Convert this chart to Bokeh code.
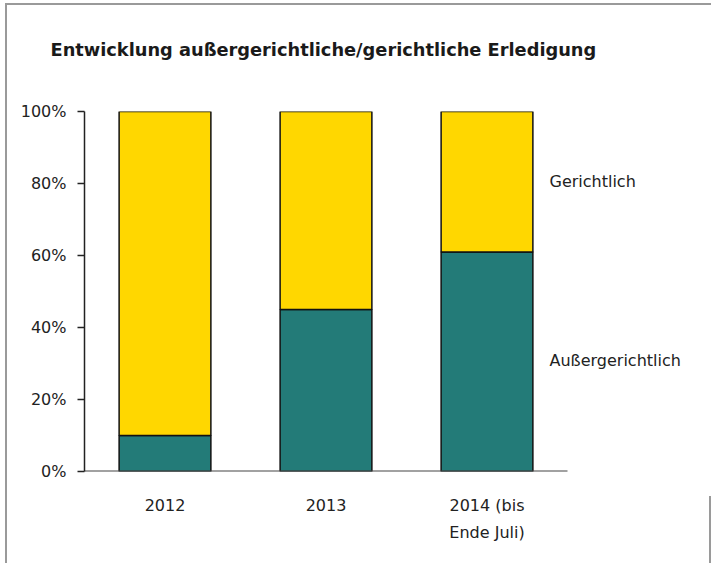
from bokeh.plotting import figure
from bokeh.models import ColumnDataSource, Label, NumeralTickFormatter, FixedTicker, Range1d, Title
from bokeh.embed import file_html
from bokeh.resources import INLINE

categories = ["2012", "2013", "2014 (bis\nEnde Juli)"]
aussergerichtlich = [0.10, 0.45, 0.61]
gerichtlich = [0.90, 0.55, 0.39]
series_names = ["Außergerichtlich", "Gerichtlich"]
y_ticks = [0, 0.2, 0.4, 0.6, 0.8, 1.0]
title_text = "Entwicklung außergerichtliche/gerichtliche Erledigung"

FONT = "DejaVu Sans"
TEAL = "#237B78"
YELLOW = "#FFD700"
W, H = 711, 563
LEFT, RIGHT_EDGE, TOP, BOTTOM = 84, 567, 111, 471
unit_px = (RIGHT_EDGE - LEFT) / len(categories)
x_end = (W - LEFT) / unit_px

xpos = [i + 0.5 for i in range(len(categories))]
source = ColumnDataSource(dict(x=xpos, a=aussergerichtlich, g=gerichtlich))

p = figure(x_range=Range1d(0, x_end), y_range=Range1d(0, 1), width=W, height=H,
           output_backend="svg", toolbar_location=None,
           min_border_left=LEFT, min_border_right=0, min_border_top=TOP,
           min_border_bottom=H - BOTTOM)
p.border_fill_color = None
p.title = None

p.vbar_stack(["a", "g"], x="x", width=0.57, source=source,
             fill_color=[TEAL, YELLOW], line_color="#111111", line_width=1.5)

# x axis baseline across the category span only
p.segment(x0=[0], y0=[0], x1=[len(categories)], y1=[0], line_color="#444444", line_width=2)

# spacer between plot frame and the title
p.add_layout(Title(text=" ", text_font_size="20px", standoff=28), "above")
p.add_layout(Title(text=title_text, text_font=FONT, text_font_size="17.8px",
                   text_font_style="bold", text_color="#1a1a1a", offset=-34,
                   standoff=0), "above")

p.xgrid.visible = False
p.ygrid.visible = False
p.outline_line_color = None

p.yaxis.ticker = FixedTicker(ticks=y_ticks)
p.yaxis.formatter = NumeralTickFormatter(format="0%")
p.yaxis.minor_tick_line_color = None
p.yaxis.major_tick_out = 7
p.yaxis.major_tick_in = 0
p.yaxis.axis_line_color = "#222222"
p.yaxis.axis_line_width = 1.5
p.yaxis.major_tick_line_color = "#222222"
p.yaxis.major_tick_line_width = 1.5
p.yaxis.major_label_text_font = FONT
p.yaxis.major_label_text_font_size = "16px"
p.yaxis.major_label_text_color = "#222222"
p.yaxis.major_label_standoff = 11

p.xaxis.ticker = FixedTicker(ticks=xpos)
p.xaxis.major_label_overrides = {x: c for x, c in zip(xpos, categories)}
p.xaxis.major_tick_line_color = None
p.xaxis.minor_tick_line_color = None
p.xaxis.axis_line_color = None
p.xaxis.major_label_text_font = FONT
p.xaxis.major_label_text_font_size = "16px"
p.xaxis.major_label_text_color = "#222222"
p.xaxis.major_label_text_line_height = 1.45
p.xaxis.major_label_standoff = 18

label_x = (549 - LEFT) / unit_px
p.add_layout(Label(x=label_x, y=0.806, text=series_names[1], text_font=FONT,
                   text_font_size="16px", text_color="#222222", text_baseline="middle"))
p.add_layout(Label(x=label_x, y=0.309, text=series_names[0], text_font=FONT,
                   text_font_size="16px", text_color="#222222", text_baseline="middle"))

g = "linear-gradient(#9a9a9a, #9a9a9a)"
p.styles = {
    "background-color": "white",
    "background-image": ", ".join([g] * 4),
    "background-size": "100% 2px, 2px 100%, 100% 2px, 2px 100%",
    "background-position": "5px 3px, 5px 3px, 709px 496px, 709px 496px",
    "background-repeat": "no-repeat",
}

open("out.html", "w").write(file_html(p, INLINE))
